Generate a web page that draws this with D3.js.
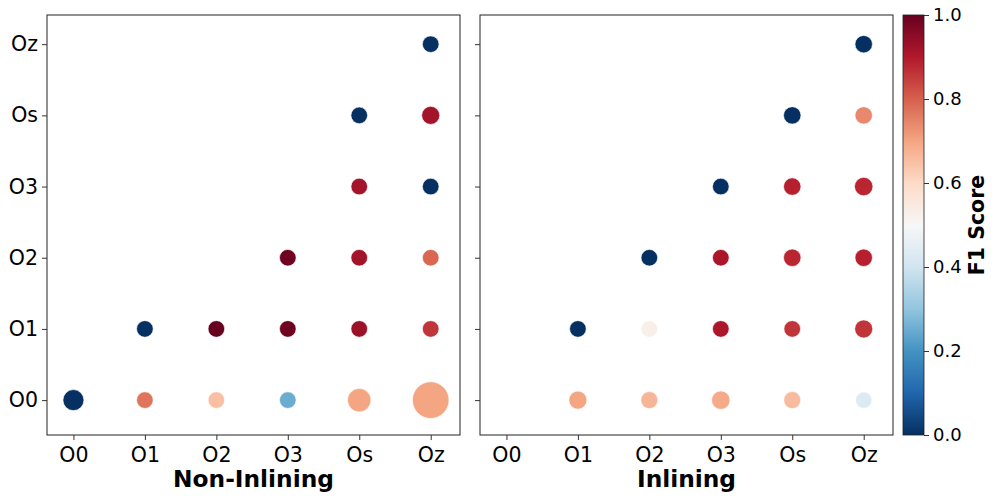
<!DOCTYPE html>
<html>
<head>
<meta charset="utf-8">
<script src="https://cdn.jsdelivr.net/npm/d3@7"></script>
<style>
  html, body { margin: 0; padding: 0; background: #fff; }
  svg { display: block; font-family: "DejaVu Sans", sans-serif; }
</style>
</head>
<body>
<svg id="chart" width="996" height="501"></svg>
<script>
// ---------- DATA ----------
const levels = ["O0", "O1", "O2", "O3", "Os", "Oz"];
const colorbarTicks = [0.0, 0.2, 0.4, 0.6, 0.8, 1.0];

// Non-Inlining panel
const nonInlX    = ["O0","O1","O2","O3","Os","Oz", "O1","O2","O3","Os","Oz", "O3","Os","Oz", "Os","Oz", "Os","Oz", "Oz"];
const nonInlY    = ["O0","O0","O0","O0","O0","O0", "O1","O1","O1","O1","O1", "O2","O2","O2", "O3","O3", "Os","Os", "Oz"];
const nonInlF1   = [0.00,0.77,0.65,0.25,0.70,0.70, 0.00,1.00,0.99,0.93,0.86, 0.99,0.92,0.79, 0.92,0.00, 0.00,0.92, 0.00];
const nonInlSize = [160, 100, 100, 100, 199, 486,  100, 100, 100, 100, 100,  100, 100, 100,  100, 100,  100, 118,  100];

// Inlining panel
const inlX    = ["O1","O2","O3","Os","Oz", "O1","O2","O3","Os","Oz", "O2","O3","Os","Oz", "O3","Os","Oz", "Os","Oz", "Oz"];
const inlY    = ["O0","O0","O0","O0","O0", "O1","O1","O1","O1","O1", "O2","O2","O2","O2", "O3","O3","O3", "Os","Os", "Oz"];
const inlF1   = [0.70,0.67,0.69,0.66,0.43, 0.00,0.53,0.91,0.86,0.86, 0.00,0.91,0.88,0.89, 0.00,0.89,0.88, 0.00,0.74, 0.00];
const inlSize = [118, 105, 123, 105, 97,   100, 100, 100, 100, 118,  100, 100, 110, 110,  100, 110, 123,  110, 110,  110];

// matplotlib RdBu_r stops
const rdbuR = ["#053061","#2166ac","#4393c3","#92c5de","#d1e5f0","#f7f7f7",
               "#fddbc7","#f4a582","#d6604d","#b2182b","#67001f"];

// ---------- LAYOUT ----------
const svg = d3.select("#chart");
const plotTop = 15, plotBottom = 435;
const panels = [
  { x0: 47,  x1: 460, title: "Non-Inlining", xs: nonInlX, ys: nonInlY, f1: nonInlF1, size: nonInlSize, yLabels: true },
  { x0: 480, x1: 893, title: "Inlining",     xs: inlX,    ys: inlY,    f1: inlF1,    size: inlSize,    yLabels: false }
];

const color = d3.scaleLinear()
  .domain(d3.range(rdbuR.length).map(i => i / (rdbuR.length - 1)))
  .range(rdbuR)
  .interpolate(d3.interpolateRgb)
  .clamp(true);

const rScale = d3.scaleSqrt().domain([0, 100]).range([0, 8.3]);

const yScale = d3.scaleLinear().domain([-0.49, 5.41]).range([plotBottom, plotTop]);

panels.forEach(p => {
  const xScale = d3.scaleLinear().domain([-0.37, 5.41]).range([p.x0, p.x1]);
  const g = svg.append("g");

  const pts = p.xs.map((x, i) => ({ x: levels.indexOf(x), y: levels.indexOf(p.ys[i]), f1: p.f1[i], s: p.size[i] }));

  g.selectAll("circle.pt")
    .data(pts.slice().sort((a, b) => b.s - a.s))
    .join("circle")
    .attr("class", "pt")
    .attr("cx", d => xScale(d.x))
    .attr("cy", d => yScale(d.y))
    .attr("r", d => rScale(d.s))
    .attr("fill", d => color(d.f1))
    .attr("stroke", "#fff")
    .attr("stroke-width", 0.6);

  // frame
  g.append("rect")
    .attr("x", p.x0).attr("y", plotTop)
    .attr("width", p.x1 - p.x0).attr("height", plotBottom - plotTop)
    .attr("fill", "none").attr("stroke", "#222").attr("stroke-width", 1);

  // x axis
  const xAxis = d3.axisBottom(xScale)
    .tickValues(d3.range(levels.length))
    .tickFormat(i => levels[i])
    .tickSize(5).tickPadding(7);
  const gx = g.append("g").attr("transform", `translate(0,${plotBottom})`).call(xAxis);
  gx.select(".domain").remove();
  gx.selectAll(".tick line").attr("stroke", "#333");
  gx.selectAll(".tick text").attr("font-size", 20.5).attr("fill", "#000").attr("font-family", "DejaVu Sans");

  // y axis
  const yAxis = d3.axisLeft(yScale)
    .tickValues(d3.range(levels.length))
    .tickFormat(i => p.yLabels ? levels[i] : "")
    .tickSize(5).tickPadding(4);
  const gy = g.append("g").attr("transform", `translate(${p.x0},0)`).call(yAxis);
  gy.select(".domain").remove();
  gy.selectAll(".tick line").attr("stroke", "#333");
  gy.selectAll(".tick text").attr("font-size", 20.5).attr("fill", "#000").attr("font-family", "DejaVu Sans");

  // x label
  g.append("text")
    .attr("x", (p.x0 + p.x1) / 2).attr("y", 487)
    .attr("text-anchor", "middle")
    .attr("font-size", 23.3).attr("font-weight", "bold")
    .text(p.title);
});

// ---------- COLORBAR ----------
const cbX0 = 903, cbX1 = 924;
const defs = svg.append("defs");
const grad = defs.append("linearGradient").attr("id", "cbgrad")
  .attr("x1", 0).attr("y1", 1).attr("x2", 0).attr("y2", 0);
d3.range(0, 1.0001, 0.02).forEach(t => {
  grad.append("stop").attr("offset", t).attr("stop-color", color(t));
});
svg.append("rect")
  .attr("x", cbX0).attr("y", plotTop)
  .attr("width", cbX1 - cbX0).attr("height", plotBottom - plotTop)
  .attr("fill", "url(#cbgrad)")
  .attr("stroke", "#222").attr("stroke-width", 0.8);

const cScale = d3.scaleLinear().domain([0, 1]).range([plotBottom, plotTop]);
const cAxis = d3.axisRight(cScale).tickValues(colorbarTicks).tickFormat(d3.format(".1f"))
  .tickSize(5).tickPadding(4);
const gc = svg.append("g").attr("transform", `translate(${cbX1},0)`).call(cAxis);
gc.select(".domain").remove();
gc.selectAll(".tick line").attr("stroke", "#333");
gc.selectAll(".tick text").attr("font-size", 18).attr("fill", "#000").attr("font-family", "DejaVu Sans");

svg.append("text")
  .attr("transform", `translate(984,225) rotate(-90)`)
  .attr("text-anchor", "middle")
  .attr("font-size", 20.5).attr("font-weight", "bold")
  .text("F1 Score");
</script>
</body>
</html>
